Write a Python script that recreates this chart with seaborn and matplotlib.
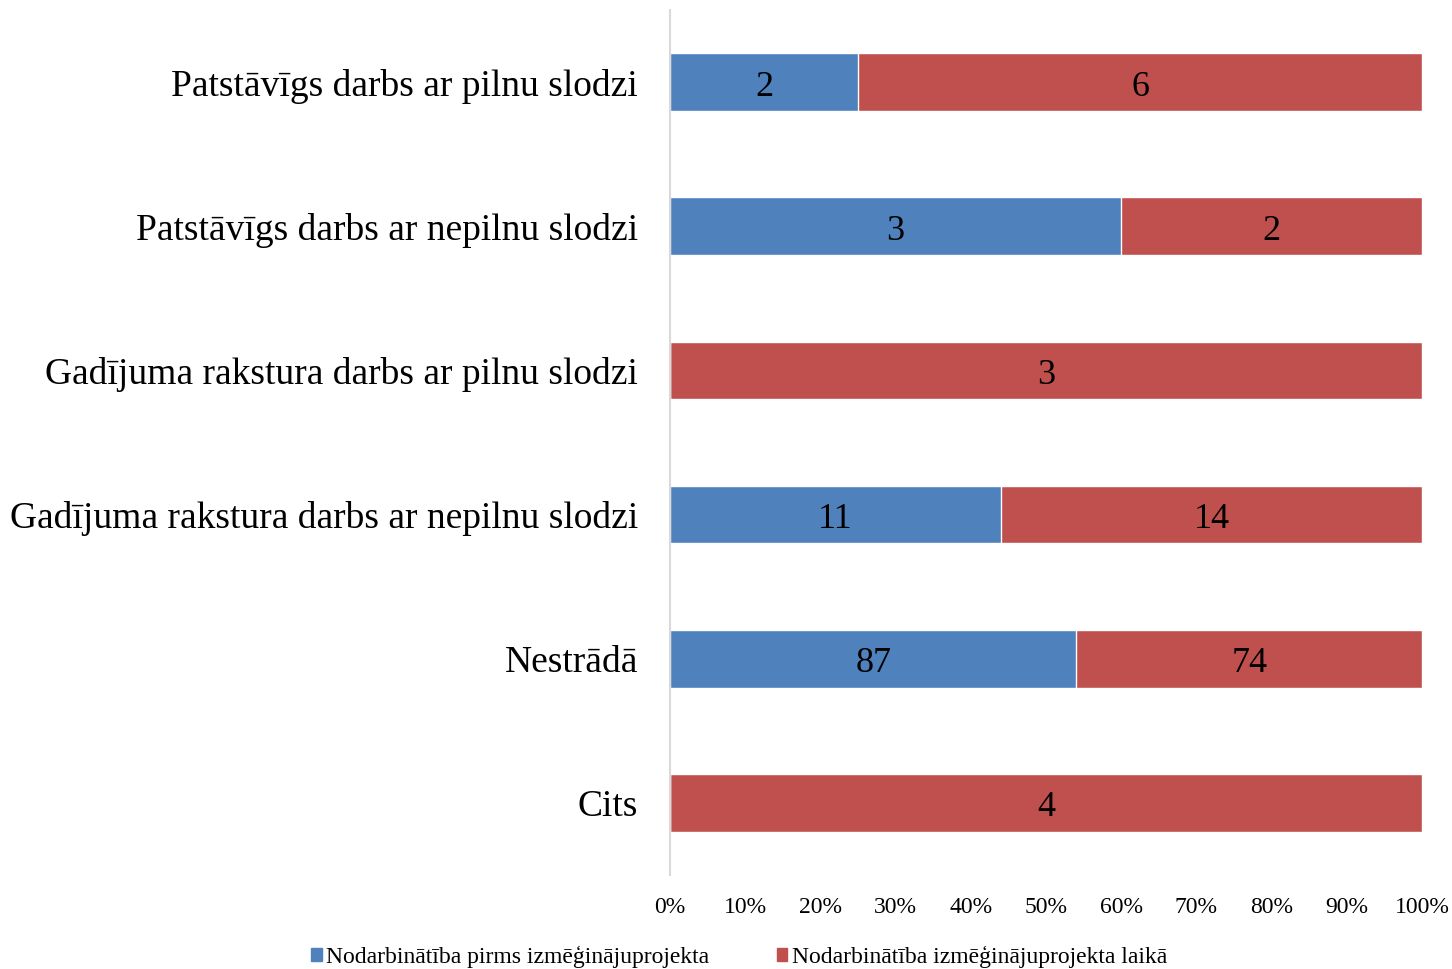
import pandas as pd
import matplotlib.pyplot as plt
import seaborn as sns

# Chart data
categories = [
    'Patstāvīgs darbs ar pilnu slodzi',
    'Patstāvīgs darbs ar nepilnu slodzi',
    'Gadījuma rakstura darbs ar pilnu slodzi',
    'Gadījuma rakstura darbs ar nepilnu slodzi',
    'Nestrādā',
    'Cits',
]
before = [2, 3, 0, 11, 87, 0]
during = [6, 2, 3, 14, 74, 4]
series_names = ['Nodarbinātība pirms izmēģinājuprojekta',
                'Nodarbinātība izmēģinājuprojekta laikā']
tick_labels = ['0%', '10%', '20%', '30%', '40%', '50%', '60%', '70%', '80%', '90%', '100%']

blue = '#4F81BD'
red = '#C0504D'

df = pd.DataFrame({'category': categories, 'before': before, 'during': during})
df['total'] = df['before'] + df['during']
df['before_pct'] = df['before'] / df['total'] * 100
df['full'] = 100.0

sns.set_style('white')
plt.rcParams['font.family'] = ['Liberation Serif', 'DejaVu Serif']
plt.rcParams['text.color'] = 'black'
plt.rcParams['xtick.color'] = 'black'
plt.rcParams['ytick.color'] = 'black'

fig = plt.figure(figsize=(14.52, 9.69), dpi=100)
ax = fig.add_axes([0.4614, 0.097, 0.518, 0.8927])

# red (full width) underneath, blue share on top
sns.barplot(ax=ax, data=df, y='category', x='full', color=red, orient='h',
            width=0.4, edgecolor='white', linewidth=1, saturation=1)
sns.barplot(ax=ax, data=df, y='category', x='before_pct', color=blue, orient='h',
            width=0.4, edgecolor='white', linewidth=1, saturation=1)

# value labels centered in each segment
for i, row in df.iterrows():
    if row['before'] > 0:
        ax.text(row['before_pct'] / 2, i + 0.035, str(row['before']), ha='center',
                va='center', fontsize=26, color='black')
    if row['during'] > 0:
        ax.text((row['before_pct'] + 100) / 2, i + 0.035, str(row['during']), ha='center',
                va='center', fontsize=26, color='black')

ax.set_xlim(0, 100)
ax.set_ylim(5.5, -0.5)
ax.set_xticks(range(0, 101, 10))
ax.set_xticklabels(tick_labels, fontsize=17)
ax.tick_params(axis='y', labelsize=27, length=0, pad=23)
ax.tick_params(axis='x', length=0, pad=16)
ax.set_xlabel('')
ax.set_ylabel('')
for side in ['top', 'right', 'bottom']:
    ax.spines[side].set_visible(False)
ax.spines['left'].set_color('#D9D9D9')
ax.spines['left'].set_linewidth(1.5)

handles = [plt.Rectangle((0, 0), 1, 1, color=blue), plt.Rectangle((0, 0), 1, 1, color=red)]
fig.legend(handles, series_names, loc='lower center', bbox_to_anchor=(0.509, -0.021),
           ncol=2, frameon=False, fontsize=17, handlelength=0.45, handleheight=0.45,
           handletextpad=0.2, columnspacing=2.85)

fig.savefig('out.png', dpi=100)
